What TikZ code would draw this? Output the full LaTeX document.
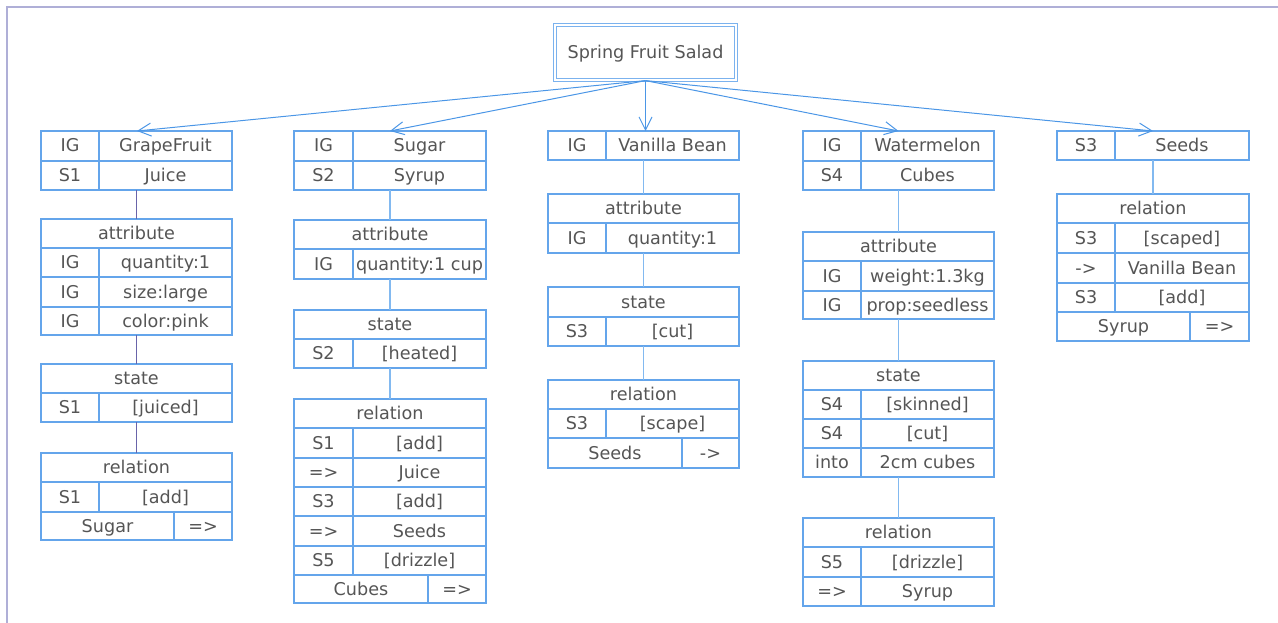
\documentclass[tikz,border=0pt]{standalone}
\usepackage{fontspec}
\setmainfont{DejaVu Sans}
\usetikzlibrary{arrows.meta}
\definecolor{bcol}{RGB}{100,165,235}
\definecolor{ccol}{RGB}{130,185,240}
\definecolor{pcol}{RGB}{105,100,170}
\definecolor{acol}{RGB}{75,150,230}
\definecolor{tcol}{RGB}{85,85,85}
\definecolor{fcol}{RGB}{175,175,215}
\tikzset{
 cel/.style={draw=bcol, line width=1.1pt, inner sep=0pt, outer sep=0pt, text=tcol,
   font=\fontsize{17.6}{20}\selectfont, anchor=north west, text height=12.5pt, text depth=0.5pt},
 conn/.style={draw=ccol, line width=1.1pt},
 pconn/.style={draw=pcol, line width=1.1pt},
 arr/.style={draw=acol, line width=1pt, -{Straight Barb[length=13pt,width=13pt]}},
 titlebox/.style={draw=bcol!85, double=white, double distance=1.8pt, line width=1.2pt,
   inner sep=0pt, text=tcol, font=\fontsize{17.6}{20}\selectfont, minimum width=181pt, minimum height=55pt,
   text height=12.5pt, text depth=0.5pt},
 frame/.style={draw=fcol, line width=2pt}
}
\newcommand\cel[6]{\node[cel,minimum width={(#4-#2)*1pt},minimum height={(#5-#3)*1pt}] (#1) at (#2pt,-#3pt) {#6};}
\begin{document}
\begin{tikzpicture}
\useasboundingbox (0,0) rectangle (1278pt,-623pt);
\coordinate (fa) at (1278pt,-7pt);
\coordinate (fb) at (6.5pt,-7pt);
\coordinate (fc) at (6.5pt,-623pt);
\draw[frame] (fa) -- (fb) -- (fc);

\node[titlebox] (title) at (645.5pt,-52.5pt) {Spring Fruit Salad};

% ---------- column 1: GrapeFruit
\cel{a1}{41}{131}{99}{161}{IG}
\cel{a2}{99}{131}{232}{161}{GrapeFruit}
\cel{a3}{41}{161}{99}{190}{S1}
\cel{a4}{99}{161}{232}{190}{Juice}
\cel{aa}{41}{219}{232}{248}{attribute}
\cel{aa1}{41}{248}{99}{277}{IG}
\cel{aa2}{99}{248}{232}{277}{quantity:1}
\cel{aa3}{41}{277}{99}{307}{IG}
\cel{aa4}{99}{277}{232}{307}{size:large}
\cel{aa5}{41}{307}{99}{335}{IG}
\cel{aa6}{99}{307}{232}{335}{color:pink}
\cel{as}{41}{364}{232}{393}{state}
\cel{as1}{41}{393}{99}{422}{S1}
\cel{as2}{99}{393}{232}{422}{[juiced]}
\cel{ar}{41}{453}{232}{482}{relation}
\cel{ar1}{41}{482}{99}{512}{S1}
\cel{ar2}{99}{482}{232}{512}{[add]}
\cel{ar3}{41}{512}{174}{540}{Sugar}
\cel{ar4}{174}{512}{232}{540}{=>}
\draw[pconn] (aa.north) -- (aa.north |- a4.south);
\draw[pconn] (as.north) -- (as.north |- aa6.south);
\draw[pconn] (ar.north) -- (ar.north |- as2.south);

% ---------- column 2: Sugar
\cel{b1}{294}{131}{353}{161}{IG}
\cel{b2}{353}{131}{486}{161}{Sugar}
\cel{b3}{294}{161}{353}{190}{S2}
\cel{b4}{353}{161}{486}{190}{Syrup}
\cel{ba}{294}{220}{486}{249}{attribute}
\cel{ba1}{294}{249}{353}{279}{IG}
\cel{ba2}{353}{249}{486}{279}{quantity:1 cup}
\cel{bs}{294}{310}{486}{339}{state}
\cel{bs1}{294}{339}{353}{368}{S2}
\cel{bs2}{353}{339}{486}{368}{[heated]}
\cel{br}{294}{399}{486}{428}{relation}
\cel{br1}{294}{428}{353}{458}{S1}
\cel{br2}{353}{428}{486}{458}{[add]}
\cel{br3}{294}{458}{353}{487}{=>}
\cel{br4}{353}{458}{486}{487}{Juice}
\cel{br5}{294}{487}{353}{516}{S3}
\cel{br6}{353}{487}{486}{516}{[add]}
\cel{br7}{294}{516}{353}{546}{=>}
\cel{br8}{353}{516}{486}{546}{Seeds}
\cel{br9}{294}{546}{353}{575}{S5}
\cel{br10}{353}{546}{486}{575}{[drizzle]}
\cel{br11}{294}{575}{428}{603}{Cubes}
\cel{br12}{428}{575}{486}{603}{=>}
\draw[conn] (ba.north) -- (ba.north |- b4.south);
\draw[conn] (bs.north) -- (bs.north |- ba2.south);
\draw[conn] (br.north) -- (br.north |- bs2.south);

% ---------- column 3: Vanilla Bean
\cel{c1}{548}{131}{606}{160}{IG}
\cel{c2}{606}{131}{739}{160}{Vanilla Bean}
\cel{ca}{548}{194}{739}{223}{attribute}
\cel{ca1}{548}{223}{606}{253}{IG}
\cel{ca2}{606}{223}{739}{253}{quantity:1}
\cel{cs}{548}{287}{739}{317}{state}
\cel{cs1}{548}{317}{606}{346}{S3}
\cel{cs2}{606}{317}{739}{346}{[cut]}
\cel{cr}{548}{380}{739}{409}{relation}
\cel{cr1}{548}{409}{606}{438}{S3}
\cel{cr2}{606}{409}{739}{438}{[scape]}
\cel{cr3}{548}{438}{682}{468}{Seeds}
\cel{cr4}{682}{438}{739}{468}{->}
\draw[conn] (ca.north) -- (ca.north |- c2.south);
\draw[conn] (cs.north) -- (cs.north |- ca2.south);
\draw[conn] (cr.north) -- (cr.north |- cs2.south);

% ---------- column 4: Watermelon
\cel{d1}{803}{131}{861}{161}{IG}
\cel{d2}{861}{131}{994}{161}{Watermelon}
\cel{d3}{803}{161}{861}{190}{S4}
\cel{d4}{861}{161}{994}{190}{Cubes}
\cel{da}{803}{232}{994}{261}{attribute}
\cel{da1}{803}{261}{861}{291}{IG}
\cel{da2}{861}{261}{994}{291}{weight:1.3kg}
\cel{da3}{803}{291}{861}{319}{IG}
\cel{da4}{861}{291}{994}{319}{prop:seedless}
\cel{ds}{803}{361}{994}{390}{state}
\cel{ds1}{803}{390}{861}{419}{S4}
\cel{ds2}{861}{390}{994}{419}{[skinned]}
\cel{ds3}{803}{419}{861}{448}{S4}
\cel{ds4}{861}{419}{994}{448}{[cut]}
\cel{ds5}{803}{448}{861}{477}{into}
\cel{ds6}{861}{448}{994}{477}{2cm cubes}
\cel{dr}{803}{518}{994}{547}{relation}
\cel{dr1}{803}{547}{861}{577}{S5}
\cel{dr2}{861}{547}{994}{577}{[drizzle]}
\cel{dr3}{803}{577}{861}{606}{=>}
\cel{dr4}{861}{577}{994}{606}{Syrup}
\draw[conn] (da.north) -- (da.north |- d4.south);
\draw[conn] (ds.north) -- (ds.north |- da4.south);
\draw[conn] (dr.north) -- (dr.north |- ds6.south);

% ---------- column 5: Seeds
\cel{e1}{1057}{131}{1115}{160}{S3}
\cel{e2}{1115}{131}{1249}{160}{Seeds}
\cel{er}{1057}{194}{1249}{223}{relation}
\cel{er1}{1057}{223}{1115}{253}{S3}
\cel{er2}{1115}{223}{1249}{253}{[scaped]}
\cel{er3}{1057}{253}{1115}{283}{->}
\cel{er4}{1115}{253}{1249}{283}{Vanilla Bean}
\cel{er5}{1057}{283}{1115}{312}{S3}
\cel{er6}{1115}{283}{1249}{312}{[add]}
\cel{er7}{1057}{312}{1190}{341}{Syrup}
\cel{er8}{1190}{312}{1249}{341}{=>}
\draw[conn] (er.north) -- (er.north |- e2.south);

% ---------- arrows from title
\coordinate (t1) at (137pt,-131pt);
\coordinate (t2) at (390pt,-131pt);
\coordinate (t3) at (645.5pt,-131pt);
\coordinate (t4) at (898.5pt,-131pt);
\coordinate (t5) at (1153pt,-131pt);
\foreach \t in {t1,t2,t3,t4,t5} \draw[arr] (title.south) -- (\t);
\end{tikzpicture}
\end{document}
